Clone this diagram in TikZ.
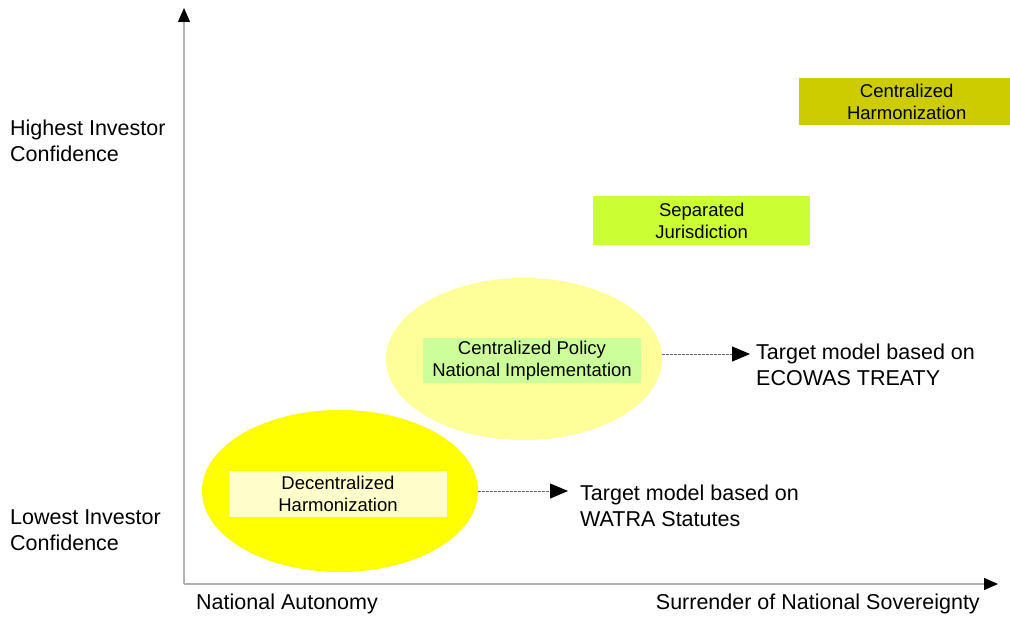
\documentclass[tikz,border=0pt]{standalone}
\usepackage{fontspec}
\setmainfont{Liberation Sans}
\usetikzlibrary{arrows.meta,shapes.geometric}
\definecolor{olive}{HTML}{CCCC00}
\definecolor{lime}{HTML}{CCFF33}
\definecolor{paleyel}{HTML}{FFFF99}
\definecolor{palegreen}{HTML}{CCFF99}
\definecolor{brightyel}{HTML}{FFFF00}
\definecolor{cream}{HTML}{FFFFCC}
\definecolor{axisgray}{HTML}{B0B0B0}
\tikzset{
  lbl/.style={font=\fontsize{21.5}{26}\selectfont, align=left, inner sep=0pt},
  boxtxt/.style={font=\fontsize{18.5}{22}\selectfont, align=center, inner sep=0pt},
  blob/.style={ellipse, draw=none, minimum width=276pt, minimum height=162pt, inner sep=0pt},
  axis/.style={draw=axisgray, line width=1.2pt, -{Triangle[length=14pt,width=12pt,fill=black,color=black]}},
  link/.style={draw=gray!80!black, line width=0.9pt, dashed, dash pattern=on 3pt off 1pt, -{Triangle[length=18pt,width=15pt,fill=black,color=black]}}
}
\begin{document}
\begin{tikzpicture}[x=1pt,y=-1pt]
\useasboundingbox (0,0) rectangle (1010,617);
% axes
\coordinate (o) at (184,584);
\coordinate (ytop) at (184,8);
\coordinate (xend) at (998,584);
\draw[axis] (o) -- (ytop);
\draw[axis] (o) -- (xend);
% axis labels
\node[lbl, anchor=west] (hi) at (10,140.5) {Highest Investor\\Confidence};
\node[lbl, anchor=west] (lo) at (10,530.5) {Lowest Investor\\Confidence};
\node[lbl, anchor=west] (na) at (196,604) {National Autonomy};
\node[lbl, anchor=east] (sn) at (980,604) {Surrender of National Sovereignty};
% top boxes
\node[fill=olive, boxtxt, minimum width=215pt, minimum height=47pt, anchor=north west] (ch) at (799,78) {Centralized\\Harmonization};
\node[fill=lime, boxtxt, minimum width=217pt, minimum height=49pt, anchor=north west] (sj) at (593,196) {Separated\\Jurisdiction};
% ellipses
\node[blob, fill=paleyel] (e2) at (524,359) {};
\node[blob, fill=brightyel] (e1) at (340,491) {};
\node[fill=palegreen, boxtxt, minimum width=218pt, minimum height=45pt] (cp) at (532,360.5) {Centralized Policy\\National Implementation};
\node[fill=cream, boxtxt, minimum width=218pt, minimum height=46pt] (dh) at (338,494) {Decentralized\\Harmonization};
% targets
\node[lbl, anchor=west] (t2) at (756,365) {Target model based on\\ECOWAS TREATY};
\node[lbl, anchor=west] (t1) at (580,506) {Target model based on\\WATRA Statutes};
\coordinate (a2) at (750,354);
\coordinate (a1) at (568,491);
\draw[link] (e2.east |- a2) -- (a2);
\draw[link] (e1.east |- a1) -- (a1);
\end{tikzpicture}
\end{document}
